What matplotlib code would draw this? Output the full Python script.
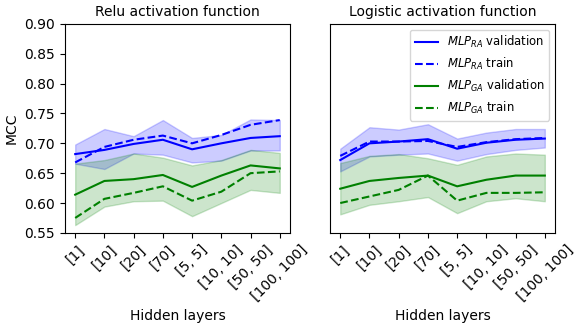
"""
MLP hidden layer sizes: MCC for Relu vs Logistic activation
"""

import matplotlib
matplotlib.use('Agg')
import matplotlib.pyplot as plt
import numpy as np

layers = ['[1]', '[10]', '[20]', '[70]', '[5, 5]', '[10, 10]', '[50, 50]', '[100, 100]']

# Relu panel
relu_ra_val = [0.682, 0.689, 0.699, 0.706, 0.690, 0.700, 0.709, 0.712]
relu_ra_train = [0.668, 0.694, 0.706, 0.713, 0.700, 0.714, 0.731, 0.739]
relu_ra_low = [0.666, 0.657, 0.683, 0.681, 0.668, 0.671, 0.688, 0.688]
relu_ra_high = [0.698, 0.724, 0.712, 0.739, 0.709, 0.714, 0.740, 0.739]
relu_ga_val = [0.614, 0.637, 0.640, 0.647, 0.627, 0.646, 0.663, 0.658]
relu_ga_train = [0.575, 0.607, 0.617, 0.628, 0.604, 0.619, 0.650, 0.653]
relu_ga_low = [0.563, 0.594, 0.603, 0.604, 0.578, 0.600, 0.622, 0.617]
relu_ga_high = [0.666, 0.672, 0.683, 0.676, 0.663, 0.672, 0.689, 0.684]

# Logistic panel
log_ra_val = [0.672, 0.700, 0.703, 0.707, 0.691, 0.701, 0.706, 0.708]
log_ra_train = [0.679, 0.703, 0.703, 0.704, 0.694, 0.702, 0.707, 0.709]
log_ra_low = [0.653, 0.678, 0.681, 0.683, 0.671, 0.682, 0.689, 0.693]
log_ra_high = [0.691, 0.727, 0.723, 0.732, 0.708, 0.718, 0.724, 0.724]
log_ga_val = [0.624, 0.637, 0.642, 0.646, 0.628, 0.639, 0.646, 0.646]
log_ga_train = [0.600, 0.611, 0.622, 0.646, 0.604, 0.617, 0.617, 0.618]
log_ga_low = [0.581, 0.597, 0.603, 0.610, 0.583, 0.603, 0.608, 0.603]
log_ga_high = [0.667, 0.679, 0.682, 0.675, 0.664, 0.678, 0.683, 0.681]

fig = plt.figure(figsize=(5.8, 3.28), dpi=100)
ax1 = fig.add_axes([0.112, 0.290, 0.388, 0.637])
ax2 = fig.add_axes([0.569, 0.290, 0.388, 0.637], sharey=ax1)

x = np.arange(len(layers))


def draw(ax, ra_val, ra_train, ra_low, ra_high, ga_val, ga_train, ga_low, ga_high):
    ax.plot(x, ra_val, color='b', label='$MLP_{RA}$ validation')
    ax.plot(x, ra_train, color='b', linestyle='--', label='$MLP_{RA}$ train')
    ax.fill_between(x, ra_low, ra_high, color='b', alpha=0.2)
    ax.plot(x, ga_val, color='g', label='$MLP_{GA}$ validation')
    ax.plot(x, ga_train, color='g', linestyle='--', label='$MLP_{GA}$ train')
    ax.fill_between(x, ga_low, ga_high, color='g', alpha=0.2)
    ax.set_xticks(x)
    ax.set_xticklabels(layers, rotation=45)
    ax.set_xlabel('Hidden layers')


draw(ax1, relu_ra_val, relu_ra_train, relu_ra_low, relu_ra_high,
     relu_ga_val, relu_ga_train, relu_ga_low, relu_ga_high)
draw(ax2, log_ra_val, log_ra_train, log_ra_low, log_ra_high,
     log_ga_val, log_ga_train, log_ga_low, log_ga_high)

ax1.set_ylim(0.55, 0.90)
ax1.set_ylabel('MCC')
ax1.set_title('Relu activation function', fontsize=10)
ax2.set_title('Logistic activation function', fontsize=10)
ax2.tick_params(axis='y', left=False, labelleft=False)
ax2.legend(loc='upper right', fontsize='small')

plt.savefig('out.png', dpi=100)
plt.close()
